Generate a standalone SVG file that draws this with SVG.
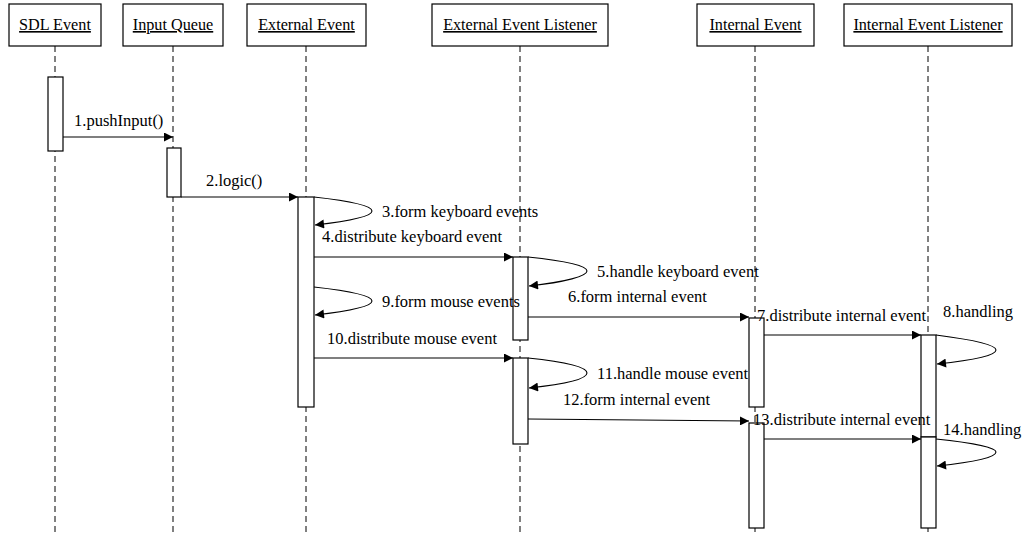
<svg xmlns="http://www.w3.org/2000/svg" width="1022" height="533" viewBox="0 0 1022 533">
<style>
.box{fill:#fff;stroke:#000;stroke-width:1.2}
.life{stroke:#000;stroke-width:1;stroke-dasharray:6 4;fill:none}
.act{fill:#fff;stroke:#000;stroke-width:1.2}
.msg{stroke:#000;stroke-width:1.1;fill:none;marker-end:url(#ah)}
.hd{font-size:16.2px;text-anchor:middle;text-decoration:underline;fill:#000}
.lb{font-size:16.5px;fill:#000}
</style>
<defs>
<marker id="ah" viewBox="0 0 10 10" refX="10" refY="5" markerWidth="10" markerHeight="9" markerUnits="userSpaceOnUse" orient="auto">
<path d="M0,0 L10,5 L0,10 Z" fill="#000"/>
</marker>
</defs>
<g id="lifelines">
<line class="life" x1="55" y1="46" x2="55" y2="533"/>
<line class="life" x1="173" y1="46" x2="173" y2="533"/>
<line class="life" x1="306" y1="46" x2="306" y2="533"/>
<line class="life" x1="520" y1="46" x2="520" y2="533"/>
<line class="life" x1="755" y1="46" x2="755" y2="533"/>
<line class="life" x1="928" y1="46" x2="928" y2="533"/>
</g>
<g font-family="'Liberation Serif', 'DejaVu Serif', serif">
<g id="sdl-event">
<rect class="box" x="9" y="4" width="92" height="42"/>
<text class="hd" x="55" y="30">SDL Event</text>
<rect class="act" x="48" y="77" width="15" height="74"/>
</g>
<g id="input-queue">
<rect class="box" x="123" y="4" width="100" height="42"/>
<text class="hd" x="173" y="30">Input Queue</text>
<rect class="act" x="167" y="148" width="14" height="49"/>
</g>
<g id="external-event">
<rect class="box" x="247" y="4" width="119" height="42"/>
<text class="hd" x="306.5" y="30">External Event</text>
<rect class="act" x="298" y="197" width="16" height="210"/>
</g>
<g id="external-event-listener">
<rect class="box" x="432" y="4" width="176" height="42"/>
<text class="hd" x="520" y="30">External Event Listener</text>
<rect class="act" x="513" y="257" width="15" height="83"/>
<rect class="act" x="513" y="358" width="15" height="86"/>
</g>
<g id="internal-event">
<rect class="box" x="697" y="4" width="117" height="42"/>
<text class="hd" x="755.5" y="30">Internal Event</text>
<rect class="act" x="749" y="318" width="15" height="89"/>
<rect class="act" x="749" y="423" width="15" height="105"/>
</g>
<g id="internal-event-listener">
<rect class="box" x="844" y="4" width="168" height="42"/>
<text class="hd" x="928" y="30">Internal Event Listener</text>
<rect class="act" x="921" y="335" width="15" height="102"/>
<rect class="act" x="921" y="437" width="15" height="91"/>
</g>
<g id="connectors">
<line class="msg" x1="63" y1="137" x2="173" y2="137"/>
<line class="msg" x1="181" y1="197" x2="298" y2="197"/>
<path class="msg" d="M314,197 C350,201 372,206 372,211 C372,216 350,221 315,225"/>
<line class="msg" x1="314" y1="257" x2="513" y2="257"/>
<path class="msg" d="M528,257 C566,261 587,266 587,271 C587,276 566,282 529,286"/>
<line class="msg" x1="528" y1="317" x2="749" y2="317"/>
<line class="msg" x1="764" y1="335" x2="921" y2="335"/>
<path class="msg" d="M936,335 C975,340 996,345 996,350 C996,355 975,360 937,364"/>
<path class="msg" d="M314,287 C350,291 372,296 372,301 C372,306 350,311 315,315"/>
<line class="msg" x1="314" y1="358" x2="513" y2="358"/>
<path class="msg" d="M528,358 C566,362 587,367 587,373 C587,379 566,384 529,388"/>
<line class="msg" x1="528" y1="419" x2="749" y2="421"/>
<line class="msg" x1="764" y1="439" x2="921" y2="439"/>
<path class="msg" d="M936,439 C975,443 996,448 996,452 C996,457 975,462 937,466"/>
</g>
<g id="labels">
<text class="lb" x="74" y="126">1.pushInput()</text>
<text class="lb" x="206" y="186">2.logic()</text>
<text class="lb" x="382" y="217">3.form keyboard events</text>
<text class="lb" x="322" y="242">4.distribute keyboard event</text>
<text class="lb" x="597" y="277">5.handle keyboard event</text>
<text class="lb" x="568" y="302">6.form internal event</text>
<text class="lb" x="757" y="321">7.distribute internal event</text>
<text class="lb" x="943" y="317">8.handling</text>
<text class="lb" x="382" y="307">9.form mouse events</text>
<text class="lb" x="327" y="344">10.distribute mouse event</text>
<text class="lb" x="597" y="379">11.handle mouse event</text>
<text class="lb" x="563" y="405">12.form internal event</text>
<text class="lb" x="753" y="425">13.distribute internal event</text>
<text class="lb" x="943" y="435">14.handling</text>
</g>
</g>
</svg>
